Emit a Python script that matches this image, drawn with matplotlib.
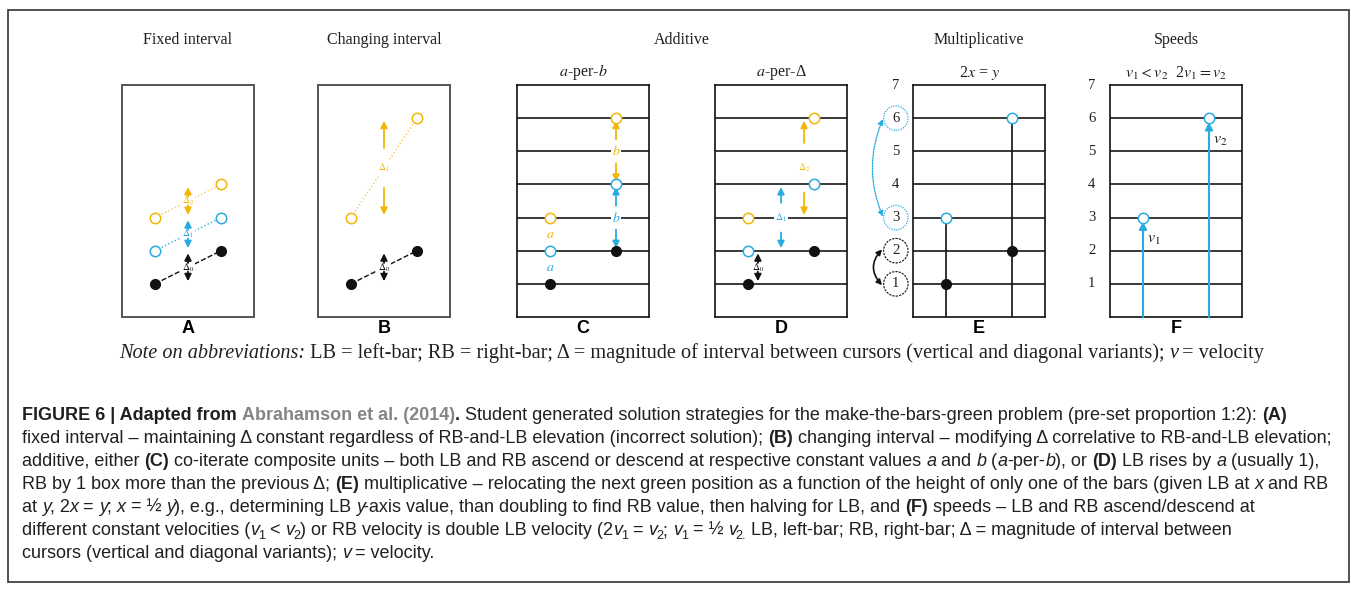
import matplotlib
matplotlib.use("Agg")
import matplotlib.pyplot as plt
from matplotlib.patches import Circle, FancyArrowPatch, Rectangle

plt.rcParams['font.family'] = ['Liberation Serif', 'DejaVu Serif']
plt.rcParams['mathtext.fontset'] = 'stix'

# --- data ---
panel_letters = ["A", "B", "C", "D", "E", "F"]
group_titles = ["Fixed interval", "Changing interval", "Additive", "Multiplicative", "Speeds"]
panel_titles = ["", "", "$a$-per-$b$", "$a$-per-Δ", "2$x$ = $y$", "$v_1 < v_2$  2$v_1 = v_2$"]
levels = [1, 2, 3, 4, 5, 6, 7]
lb_x, rb_x = 1, 3

# A: fixed interval (black, blue, orange pairs)
fixed_lb = [1, 2, 3]
fixed_rb = [2, 3, 4]
fixed_labels = [r"$\Delta_0$", r"$\Delta_1$", r"$\Delta_2$"]
# B: changing interval
changing_lb = [1, 3]
changing_rb = [2, 6]
changing_labels = [r"$\Delta_0$", r"$\Delta_1$"]
# C: a-per-b
aperb_lb = [1, 2, 3]
aperb_rb = [2, 4, 6]
# D: a-per-delta
aperd_lb = [1, 2, 3]
aperd_rb = [2, 4, 6]
aperd_arrow_x = [1.3, 2.0, 2.7]
aperd_labels = [r"$\Delta_0$", r"$\Delta_1$", r"$\Delta_2$"]
# E: multiplicative
mult_lb = [1, 3]
mult_rb = [2, 6]
circled_black = [1, 2]
circled_blue = [3, 6]
# F: speeds
speed_lb = 3
speed_rb = 6

# $..$ = italic, _ = subscript inside italic
caption_lines = [
    [("FIGURE 6 | Adapted from ", "b"), ("Abrahamson et al. (2014)", "bg"), (".", "b"),
     (" Student generated solution strategies for the make-the-bars-green problem (pre-set proportion 1:2): ", ""),
     ("(A)", "b")],
    [("fixed interval – maintaining Δ constant regardless of RB-and-LB elevation (incorrect solution); ", ""),
     ("(B)", "b"), (" changing interval – modifying Δ correlative to RB-and-LB elevation;", "")],
    [("additive, either ", ""), ("(C)", "b"),
     (" co-iterate composite units – both LB and RB ascend or descend at respective constant values $a$ and $b$ ($a$-per-$b$), or ", ""),
     ("(D)", "b"), (" LB rises by $a$ (usually 1),", "")],
    [("RB by 1 box more than the previous Δ; ", ""), ("(E)", "b"),
     (" multiplicative – relocating the next green position as a function of the height of only one of the bars (given LB at $x$ and RB", "")],
    [("at $y$, 2$x$ = $y$; $x$ = ½ $y$), e.g., determining LB $y$-axis value, than doubling to find RB value, then halving for LB, and ", ""),
     ("(F)", "b"), (" speeds – LB and RB ascend/descend at", "")],
    [("different constant velocities ($v_1$ < $v_2$) or RB velocity is double LB velocity (2$v_1$ = $v_2$; $v_1$ = ½ $v_2.$ LB, left-bar; RB, right-bar; Δ = magnitude of interval between", "")],
    [("cursors (vertical and diagonal variants); $v$ = velocity.", "")],
]
note_runs = [("Note on abbreviations:", "i"),
             (" LB = left-bar; RB = right-bar; Δ = magnitude of interval between cursors (vertical and diagonal variants); $v$ = velocity", "")]

# --- style ---
BLACK = '#111111'
BLUE = '#29abe2'
ORANGE = '#f2b705'
LORANGE = '#f6c75a'
LINE = '#2a2a2a'
TXT = '#231f20'

W, H = 1357, 592
fig = plt.figure(figsize=(W / 100, H / 100), dpi=100)
renderer = fig.canvas.get_renderer()

panel_left = [122, 318, 517, 715, 913, 1110]
box_w, box_top, box_bot = 132, 85, 317


def make_ax(i):
    ax = fig.add_axes([panel_left[i] / W, 1 - box_bot / H, box_w / W, (box_bot - box_top) / H])
    ax.set_xlim(0, 4)
    ax.set_ylim(0, 7)
    ax.set_xticks([])
    ax.set_yticks([])
    for s in ax.spines.values():
        s.set_color('#555555' if i < 2 else BLACK)
        s.set_linewidth(1.4 if i < 2 else 1.2)
    if i >= 2:
        for lv in levels[:-1]:
            ax.axhline(lv, color=LINE, lw=1.3, zorder=1)
    ax.text(2, -0.1, panel_letters[i], ha='center', va='top', fontsize=13,
            fontweight='bold', family='Liberation Sans', clip_on=False)
    if panel_titles[i]:
        ax.text(2, 7.1, panel_titles[i], ha='center', va='bottom', fontsize=11.5, color=TXT)
    return ax


def cursor(ax, x, y, color):
    if color == BLACK:
        ax.plot(x, y, 'o', ms=7, color=BLACK, zorder=6, clip_on=False)
    else:
        ax.plot(x, y, 'o', ms=7.5, mfc='white', mec=color, mew=1.1, zorder=6, clip_on=False)


def arrow(ax, x, y0, y1, color, lw=1.3, ms=10):
    ax.annotate('', xy=(x, y1), xytext=(x, y0),
                arrowprops=dict(arrowstyle='-|>', color=color, lw=lw, mutation_scale=ms,
                                shrinkA=0, shrinkB=0), zorder=5)


def interval(ax, x, lo, hi, color, label, gap, size=7):
    mid = (lo + hi) / 2
    arrow(ax, x, mid + gap, hi - 0.08, color)
    arrow(ax, x, mid - gap, lo + 0.08, color)
    ax.text(x, mid, label, ha='center', va='center', fontsize=size, color=color, zorder=4,
            bbox=dict(fc='white', ec='none', pad=0.5))


colors3 = [BLACK, BLUE, ORANGE]

# A: fixed interval
ax = make_ax(0)
for lo, hi, c, lab in zip(fixed_lb, fixed_rb, colors3, fixed_labels):
    ls = '--' if c == BLACK else ':'
    ax.plot([lb_x, rb_x], [lo, hi], ls=ls, color=c if c != ORANGE else LORANGE, lw=1, zorder=2)
    cursor(ax, lb_x, lo, c)
    cursor(ax, rb_x, hi, c)
    interval(ax, 2, lo, hi, c, lab, 0.13)

# B: changing interval
ax = make_ax(1)
for lo, hi, c, lab in zip(changing_lb, changing_rb, [BLACK, ORANGE], changing_labels):
    ls = '--' if c == BLACK else ':'
    ax.plot([lb_x, rb_x], [lo, hi], ls=ls, color=c if c != ORANGE else LORANGE, lw=1, zorder=2)
    cursor(ax, lb_x, lo, c)
    cursor(ax, rb_x, hi, c)
    interval(ax, 2, lo, hi, c, lab, 0.13 if hi - lo < 2 else 0.6)

# C: a-per-b
ax = make_ax(2)
for k, c in enumerate(colors3):
    cursor(ax, lb_x, aperb_lb[k], c)
    cursor(ax, rb_x, aperb_rb[k], c)
    if k > 0:
        ax.text(lb_x, (aperb_lb[k - 1] + aperb_lb[k]) / 2, '$a$', ha='center', va='center',
                fontsize=10, color=c)
        interval(ax, rb_x, aperb_rb[k - 1], aperb_rb[k], c, '$b$', 0.36, size=10)

# D: a-per-delta
ax = make_ax(3)
for k, c in enumerate(colors3):
    cursor(ax, lb_x, aperd_lb[k], c)
    cursor(ax, rb_x, aperd_rb[k], c)
    gap = 0.13 if k == 0 else (0.45 if k == 1 else 0.75)
    interval(ax, aperd_arrow_x[k], aperd_lb[k], aperd_rb[k], c, aperd_labels[k], gap)

# E: multiplicative
ax = make_ax(4)
ax.plot([lb_x, lb_x], [0, mult_lb[1]], color=BLACK, lw=1.2, zorder=3)
ax.plot([rb_x, rb_x], [0, mult_rb[1]], color=BLACK, lw=1.2, zorder=3)
cursor(ax, lb_x, mult_lb[0], BLACK)
cursor(ax, rb_x, mult_rb[0], BLACK)
cursor(ax, lb_x, mult_lb[1], BLUE)
cursor(ax, rb_x, mult_rb[1], BLUE)
for lv in levels:
    ax.text(-0.52, lv, str(lv), ha='center', va='center', fontsize=10.5, color=TXT, clip_on=False)
for lv in circled_black:
    ax.add_patch(Circle((-0.52, lv), 0.37, fill=False, ec=BLACK, lw=0.8, ls=(0, (2, 1)), clip_on=False))
for lv in circled_blue:
    ax.add_patch(Circle((-0.52, lv), 0.37, fill=False, ec=BLUE, lw=0.9, ls=(0, (1, 1)), clip_on=False))
ax.add_patch(FancyArrowPatch((-0.88, circled_black[0] - 0.1), (-0.88, circled_black[1] + 0.1),
                             connectionstyle='arc3,rad=-0.5', arrowstyle='<|-|>', mutation_scale=8,
                             color=BLACK, lw=1.2, clip_on=False))
ax.add_patch(FancyArrowPatch((-0.88, circled_blue[0] - 0.05), (-0.88, circled_blue[1] + 0.05),
                             connectionstyle='arc3,rad=-0.22', arrowstyle='<|-|>', mutation_scale=8,
                             color=BLUE, lw=1.0, ls=(0, (1, 1)), clip_on=False))

# F: speeds
ax = make_ax(5)
arrow(ax, lb_x, 0, speed_lb - 0.12, BLUE, lw=1.5, ms=11)
arrow(ax, rb_x, 0, speed_rb - 0.12, BLUE, lw=1.5, ms=11)
cursor(ax, lb_x, speed_lb, BLUE)
cursor(ax, rb_x, speed_rb, BLUE)
ax.text(lb_x + 0.12, speed_lb - 0.65, '$v_1$', ha='left', va='center', fontsize=11.5, color=TXT)
ax.text(rb_x + 0.12, speed_rb - 0.65, '$v_2$', ha='left', va='center', fontsize=11.5, color=TXT)
for lv in levels:
    ax.text(-0.55, lv, str(lv), ha='center', va='center', fontsize=10.5, color=TXT, clip_on=False)

# group titles
centers = [p + box_w / 2 for p in panel_left]
title_x = [centers[0], centers[1], (centers[2] + centers[3]) / 2, centers[4], centers[5]]
for tx, t in zip(title_x, group_titles):
    fig.text(tx / W, 1 - 40 / H, t, ha='center', va='center', fontsize=11.5, color=TXT)


def split_runs(runs):
    # turn $..$ parts into italic runs, with _ giving a subscript
    out = []
    for s, st in runs:
        for k, p in enumerate(s.split('$')):
            if not p:
                continue
            if k % 2 == 0:
                out.append((p, st))
            elif '_' in p:
                v, sub = p.split('_')
                out.append((v, st + 'i'))
                out.append((sub, st + 's'))
            else:
                out.append((p, st + 'i'))
    return out


def text_width(s, kw):
    t = fig.text(0, 0, s + '.', **kw)
    d = fig.text(0, 0, '.', **kw)
    w = t.get_window_extent(renderer).width - d.get_window_extent(renderer).width
    t.remove()
    d.remove()
    return w


def put_runs(runs, x_px, y_px, size, family, center=False):
    texts = []
    x = x_px
    for s, st in split_runs(runs):
        kw = dict(fontsize=size, family=family, color=TXT, va='baseline')
        y = y_px
        if 'b' in st:
            kw['fontweight'] = 'bold'
        if 'i' in st:
            kw['fontstyle'] = 'italic'
        if 'g' in st:
            kw['color'] = '#858585'
        if 's' in st:
            kw['fontsize'] = size * 0.7
            y = y_px + size * 100 / 72 * 0.22
        texts.append(fig.text(x / W, 1 - y / H, s, **kw))
        x += text_width(s, kw)
    if center:
        shift = (x - x_px) / 2
        for t in texts:
            t.set_x(t.get_position()[0] - shift / W)


put_runs(note_runs, 691, 358, 14.6, ['Liberation Serif', 'DejaVu Serif'], center=True)
for i, runs in enumerate(caption_lines):
    put_runs(runs, 22, 420 + 23 * i, 13, ['Liberation Sans', 'DejaVu Sans'])

# outer frame
fig.add_artist(Rectangle((8 / W, 1 - 582 / H), (1349 - 8) / W, (582 - 10) / H,
                         transform=fig.transFigure, fill=False, ec='#333333', lw=1.2))

fig.savefig('out.png', dpi=100, facecolor='white')
